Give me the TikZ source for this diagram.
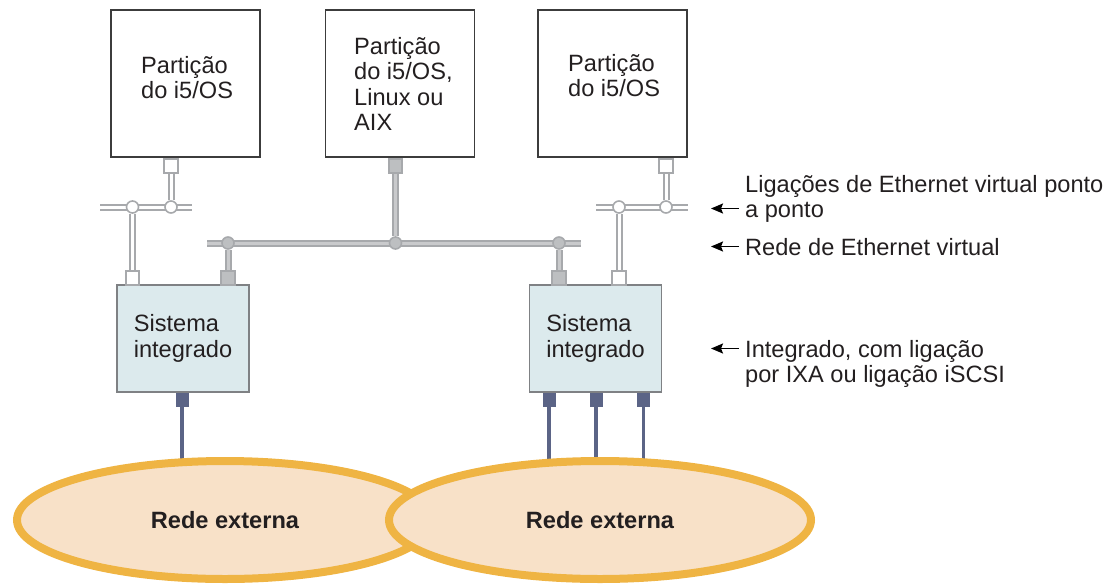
\documentclass[tikz,border=0pt]{standalone}
\usepackage{fontspec}
\setmainfont{Liberation Sans}
\usetikzlibrary{arrows.meta,backgrounds,shapes.geometric}

\definecolor{ink}{HTML}{231F20}
\definecolor{boxline}{HTML}{3C3C3C}
\definecolor{sysfill}{HTML}{DCEAED}
\definecolor{sysline}{HTML}{7F8184}
\definecolor{wire}{HTML}{A7A9AC}
\definecolor{netcore}{HTML}{C9CACC}
\definecolor{portfill}{HTML}{BDBFC1}
\definecolor{ethport}{HTML}{5B6486}
\definecolor{ellfill}{HTML}{F8E1C8}
\definecolor{ellline}{HTML}{EFB443}

\begin{document}
\begin{tikzpicture}[x=1pt,y=-1pt,
    font=\fontsize{23.6}{25.5}\selectfont, text=ink,
    part/.style={draw=boxline,line width=1.3pt,minimum width=149pt,minimum height=147pt,inner sep=0pt},
    ptext/.style={align=left,inner sep=0pt,anchor=north west},
    sys/.style={draw=sysline,fill=sysfill,line width=1.3pt,minimum width=132pt,minimum height=107pt,align=left},
    wport/.style={draw=wire,fill=white,line width=1.6pt,minimum size=13.5pt,inner sep=0pt},
    gport/.style={wport,fill=portfill},
    eport/.style={fill=ethport,minimum width=13pt,minimum height=14pt,inner sep=0pt},
    wjoin/.style={circle,draw=wire,fill=white,line width=1.6pt,minimum size=12pt,inner sep=0pt},
    gjoin/.style={wjoin,fill=portfill},
    p2p/.style={draw=wire,line width=2pt,double=white,double distance=3pt},
    vnet/.style={draw=wire,line width=2pt,double=netcore,double distance=3pt},
    cable/.style={draw=ethport,line width=3.5pt},
    extnet/.style={ellipse,draw=ellline,fill=ellfill,line width=8pt,inner sep=0pt,
        minimum height=118pt,font=\fontsize{23.6}{25}\selectfont\bfseries},
    note/.style={align=left,anchor=north west,inner xsep=6pt,inner ysep=0pt},
    pointer/.style={-{Stealth[length=12pt,width=10pt,inset=2pt]},line width=1.8pt,black}]
  \useasboundingbox (0,0) rectangle (1111,584);

  % partitions
  \node[part] (part1) at (185.5,83.5) {};
  \node[part] (part2) at (400,83.5) {};
  \node[part] (part3) at (612.5,83.5) {};
  \node[ptext] (txt1) at (141,56) {Partição\\do i5/OS};
  \node[ptext] (txt2) at (354,37) {Partição\\do i5/OS,\\Linux ou\\AIX};
  \node[ptext] (txt3) at (568,54) {Partição\\do i5/OS};

  % integrated systems
  \node[sys] (sysL) at (183,338.5) {Sistema\\integrado};
  \node[sys] (sysR) at (595.5,338.5) {Sistema\\integrado};

  % ports and joins
  \node[wport] (up1) at (171,166) {};
  \node[gport] (up2) at (395.5,166) {};
  \node[wport] (up3) at (666,166) {};
  \node[wjoin] (pj1) at (132.5,207) {};
  \node[wjoin] (pj2) at (171,207) {};
  \node[wjoin] (pj3) at (619,207) {};
  \node[wjoin] (pj4) at (666,207) {};
  \node[gjoin] (nj1) at (228,243) {};
  \node[gjoin] (nj2) at (395.5,243) {};
  \node[gjoin] (nj3) at (559,243) {};
  \node[wport] (dn1) at (132.5,278) {};
  \node[gport] (dn2) at (228,278) {};
  \node[gport] (dn3) at (559,278) {};
  \node[wport] (dn4) at (619,278) {};
  \node[eport] (eth1) at (182,399.5) {};
  \node[eport] (eth2) at (549,399.5) {};
  \node[eport] (eth3) at (596,399.5) {};
  \node[eport] (eth4) at (643.5,399.5) {};

  % external networks
  \node[extnet,minimum width=416pt] (extL) at (225,520) {Rede externa};
  \node[extnet,minimum width=422pt] (extR) at (600,520) {Rede externa};

  % notes
  \node[note] (ann1) at (739,175) {Ligações de Ethernet virtual ponto\\a ponto};
  \node[note] (ann2) at (739,238) {Rede de Ethernet virtual};
  \node[note] (ann3) at (739,340) {Integrado, com ligação\\por IXA ou ligação iSCSI};
  \coordinate (tip1) at (711,208.5);
  \coordinate (tip2) at (711,246.5);
  \coordinate (tip3) at (711,348.5);
  \draw[pointer] (ann1.west |- tip1) -- (tip1);
  \draw[pointer] (ann2.west |- tip2) -- (tip2);
  \draw[pointer] (ann3.west |- tip3) -- (tip3);

  \begin{scope}[on background layer]
    \coordinate (pl1) at (100,207);
    \coordinate (pr1) at (192,207);
    \coordinate (pl2) at (596,207);
    \coordinate (pr2) at (688,207);
    \coordinate (nl) at (207,243);
    \coordinate (nr) at (581,243);
    \draw[p2p] (pl1) -- (pr1);
    \draw[p2p] (up1) -- (pj2);
    \draw[p2p] (pj1) -- (dn1);
    \draw[p2p] (pl2) -- (pr2);
    \draw[p2p] (up3) -- (pj4);
    \draw[p2p] (pj3) -- (dn4);
    \draw[vnet] (nl) -- (nr);
    \draw[vnet] (up2) -- (nj2);
    \draw[vnet] (nj1) -- (dn2);
    \draw[vnet] (nj3) -- (dn3);
    \draw[cable] (eth1) -- (eth1 |- extL.center);
    \draw[cable] (eth2) -- (eth2 |- extR.center);
    \draw[cable] (eth3) -- (eth3 |- extR.center);
    \draw[cable] (eth4) -- (eth4 |- extR.center);
  \end{scope}
\end{tikzpicture}
\end{document}
